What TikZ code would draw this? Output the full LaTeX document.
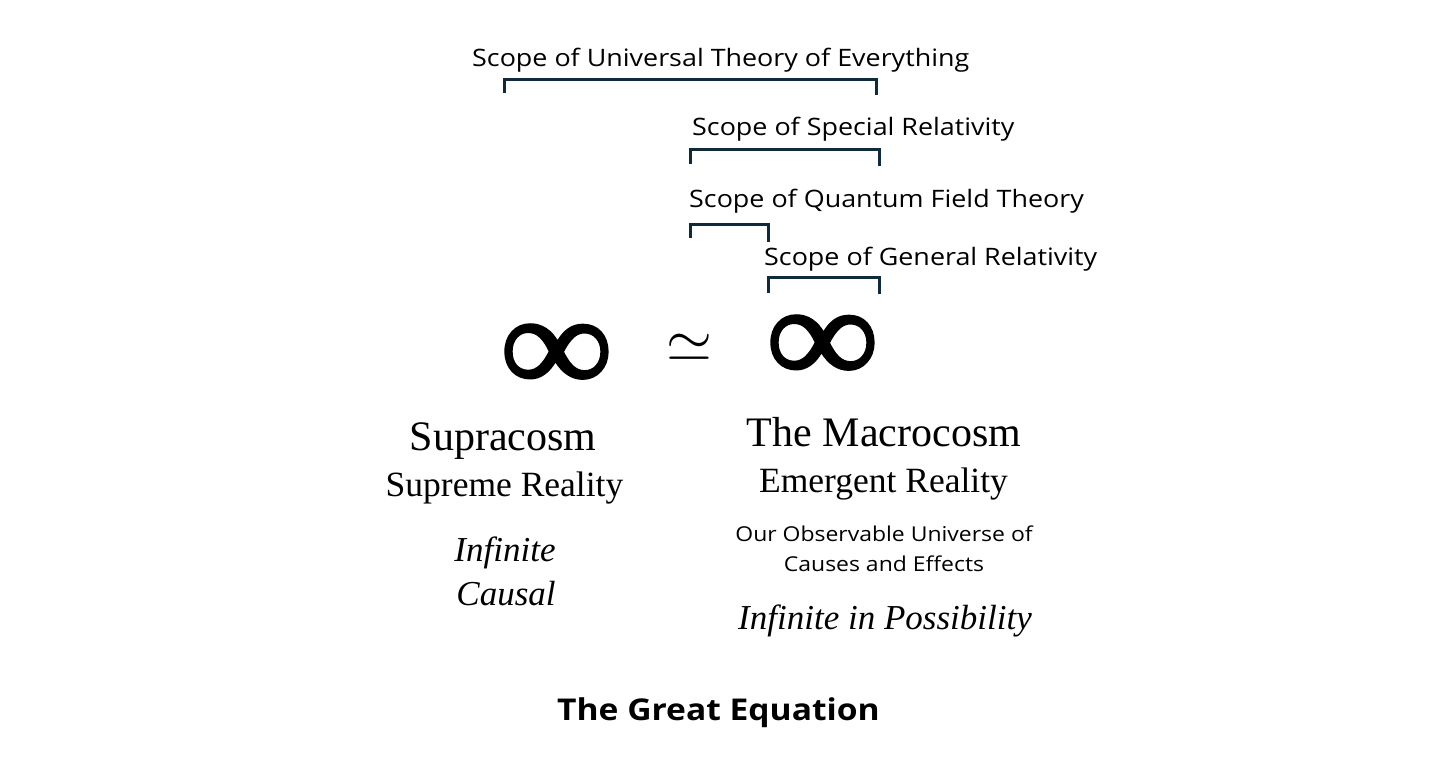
\documentclass[tikz,border=0pt]{standalone}
\usepackage{fontspec}
\usepackage{graphicx}
\setmainfont{Liberation Serif}
\newfontfamily\sansf[FakeStretch=1.12]{Open Sans}
\newfontfamily\symf[FakeBold=1.8,FakeStretch=1.09]{Liberation Serif}
\definecolor{brk}{HTML}{0F2A3A}
\begin{document}
\begin{tikzpicture}[x=1pt,y=-1pt,
  scopelbl/.style={font=\sansf\fontsize{24}{28}\selectfont, anchor=base west, inner sep=0pt},
  bracket/.style={draw=brk, line width=3pt},
  titlef/.style={font=\fontsize{42}{46}\selectfont, anchor=base, inner sep=0pt},
  subf/.style={font=\fontsize{35.5}{40}\selectfont, anchor=base, inner sep=0pt},
  itf/.style={font=\itshape\fontsize{35}{40}\selectfont, anchor=base, inner sep=0pt},
  smallsans/.style={font=\sansf\fontsize{20.5}{24}\selectfont, anchor=base, inner sep=0pt},
  bigsym/.style={font=\symf\bfseries\fontsize{142}{142}\selectfont, anchor=center, inner sep=0pt},
  heading/.style={font=\sansf\bfseries\fontsize{30}{34}\selectfont, anchor=base, inner sep=0pt}]
\useasboundingbox (0,0) rectangle (1438,761);

% scope labels
\node[scopelbl] (toe) at (472,66) {Scope of Universal Theory of Everything};
\node[scopelbl] (sr) at (692,135) {Scope of Special Relativity};
\node[scopelbl] (qft) at (689,207) {Scope of Quantum Field Theory};
\node[scopelbl] (gr) at (764,265) {Scope of General Relativity};

% brackets
\coordinate (u1) at (504,93);  \coordinate (u2) at (504,79.5);
\coordinate (u3) at (876,79.5); \coordinate (u4) at (876,95);
\draw[bracket] (u1) -- (u2) -- (u3) -- (u4);
\coordinate (s1) at (690.5,164); \coordinate (s2) at (690.5,149.5);
\coordinate (s3) at (879.5,149.5); \coordinate (s4) at (879.5,166);
\draw[bracket] (s1) -- (s2) -- (s3) -- (s4);
\coordinate (q1) at (690.5,238); \coordinate (q2) at (690.5,224);
\coordinate (q3) at (768.5,224); \coordinate (q4) at (768.5,242);
\draw[bracket] (q1) -- (q2) -- (q3) -- (q4);
\coordinate (g1) at (768.5,293); \coordinate (g2) at (768.5,277.5);
\coordinate (g3) at (879,277.5); \coordinate (g4) at (879,294);
\draw[bracket] (g1) -- (g2) -- (g3) -- (g4);

% equation
\node[bigsym] (infl) at (556.5,358.6) {∞};
\node[inner sep=0pt, anchor=center, font=\fontsize{10}{12}\selectfont] (sim) at (689,348) {\scalebox{5.9}{$\simeq$}};
\node[bigsym] (infr) at (822.5,349.6) {∞};

% left column
\node[titlef] (supra) at (503,450) {Supracosm};
\node[subf] (supreme) at (504.5,496) {Supreme Reality};
\node[itf] (inf1) at (505,561) {Infinite};
\node[itf] (causal) at (506,605) {Causal};

% right column
\node[titlef] (macro) at (884,446) {The Macrocosm};
\node[subf] (emerg) at (883.5,492) {Emergent Reality};
\node[smallsans] (obs1) at (884,541) {Our Observable Universe of};
\node[smallsans] (obs2) at (884,571) {Causes and Effects};
\node[itf] (infposs) at (885,629) {Infinite in Possibility};

% title
\node[heading] (great) at (718.5,720) {The Great Equation};
\end{tikzpicture}
\end{document}
